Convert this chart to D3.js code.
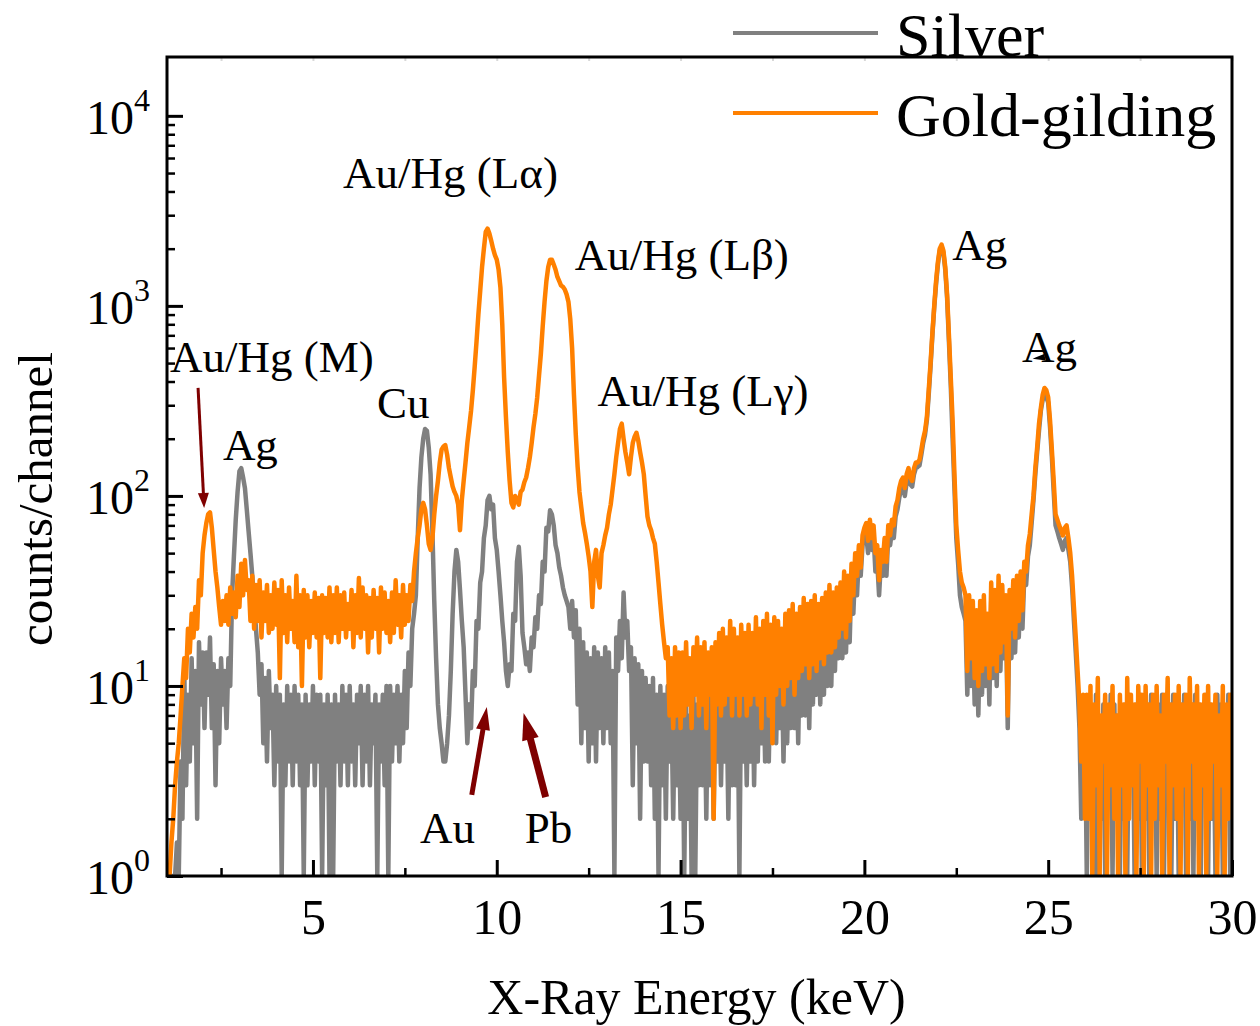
<!DOCTYPE html>
<html>
<head>
<meta charset="utf-8">
<script src="https://cdn.jsdelivr.net/npm/d3@7"></script>
<style>
  body { margin: 0; background: #fff; }
  svg text { font-family: "Liberation Serif", "Times New Roman", serif; fill: #000; }
</style>
</head>
<body>
<svg id="chart" width="1260" height="1026"></svg>
<script>
// spectrum channels: 0.05 keV wide, the first one at 1.05 keV (one row = 1 keV)
const firstChannel = 1.05;
const channelWidth = 0.05;

// counts per channel
const silverCounts = [
  1, 1, 1, 1, 1, 1.5, 1, 4, 2, 12, 3, 9, 4, 14, 5, 12, 2, 17, 8, 15,
  6, 15, 9, 18, 6, 13, 3, 12, 5, 14, 8, 12, 6, 14, 10, 30, 48, 75, 105, 135,
  140, 125, 110, 85, 65, 50, 38, 28, 20, 15, 9, 13, 5, 11, 4, 12, 6, 9, 3, 10,
  4, 9, 1, 8, 3, 10, 4, 9, 3, 10, 4, 9, 3, 8, 1, 9, 3, 8, 4, 10,
  3, 9, 4, 9, 1, 8, 3, 9, 1, 8, 1, 9, 4, 8, 3, 10, 4, 9, 3, 10,
  4, 8, 3, 9, 5, 10, 3, 9, 4, 10, 3, 8, 5, 9, 1, 8, 4, 9, 3, 10,
  1, 10, 4, 9, 5, 10, 4, 9, 5, 12, 6, 15, 10, 20, 24, 30, 60, 110, 160, 200,
  225, 220, 180, 130, 65, 28, 14, 8, 6, 5, 4, 4, 5, 7, 12, 24, 40, 52, 45, 32,
  22, 16, 9, 5, 8, 6, 12, 10, 22, 20, 35, 40, 60, 70, 95, 100, 85, 90, 60, 52,
  40, 30, 22, 17, 12, 10, 13, 12, 24, 22, 45, 54, 38, 19, 16, 13, 15, 12, 18, 16,
  23, 20, 30, 27, 45, 40, 68, 65, 84, 80, 70, 55, 50, 42, 38, 33, 30, 28, 26, 20,
  28, 18, 25, 8, 20, 5, 17, 6, 15, 4, 14, 5, 16, 4, 15, 6, 14, 5, 16, 6,
  15, 5, 12, 1, 18, 12, 22, 14, 31, 18, 22, 12, 16, 3, 14, 5, 13, 2, 12, 4,
  11, 4, 10, 3, 11, 2, 9, 1, 10, 3, 9, 2, 10, 4, 8, 2, 9, 3, 8, 2,
  9, 1, 8, 2, 7, 1, 9, 1, 8, 3, 10, 3, 9, 2, 10, 3, 9, 2, 9, 4,
  11, 3, 10, 4, 9, 2, 12, 3, 10, 3, 11, 1, 12, 4, 10, 3, 11, 4, 12, 3,
  11, 4, 12, 5, 13, 4, 12, 4, 13, 6, 12, 5, 14, 6, 13, 4, 14, 5, 15, 6,
  16, 6, 17, 5, 18, 7, 17, 7, 20, 6, 19, 8, 22, 9, 20, 8, 22, 9, 24, 10,
  25, 10, 27, 12, 29, 14, 28, 14, 33, 15, 32, 17, 38, 24, 42, 30, 48, 38, 55, 60,
  62, 50, 68, 52, 62, 40, 45, 30, 45, 38, 52, 38, 62, 55, 66, 60, 78, 85, 98, 110,
  112, 100, 118, 125, 115, 112, 130, 140, 142, 145, 165, 190, 210, 250, 340, 480, 700, 980, 1300, 1650,
  1950, 2050, 1900, 1550, 1100, 650, 380, 200, 110, 60, 44, 30, 26, 24, 22, 9, 22, 10, 20, 8,
  18, 7, 20, 9, 24, 10, 20, 8, 28, 11, 26, 10, 30, 12, 27, 14, 24, 6, 26, 14,
  28, 15, 30, 18, 34, 20, 38, 34, 48, 55, 72, 95, 130, 170, 220, 280, 320, 340, 330, 310,
  230, 160, 105, 70, 65, 60, 56, 52, 58, 60, 52, 45, 33, 22, 15, 10, 6, 2, 3, 7,
  1, 8, 2, 7, 1, 9, 1, 6, 2, 8, 1, 7, 3, 9, 1, 8, 2, 7, 1, 6,
  2, 8, 1, 9, 3, 7, 1, 8, 2, 9, 1, 7, 2, 8, 1, 9, 3, 7, 1, 8,
  2, 9, 1, 7, 3, 8, 1, 9, 2, 7, 1, 8, 3, 9, 1, 7, 2, 8, 1, 9,
  2, 8, 1, 7, 3, 9, 1, 8, 2, 7, 1, 9, 3, 8, 1, 7, 2, 9, 1, 8
];

const goldCounts = [
  1, 1, 1.5, 2, 3, 4, 5, 7, 10, 14, 11, 20, 15, 24, 18, 26, 20, 36, 30, 50,
  62, 72, 80, 82, 68, 52, 40, 33, 26, 21, 28, 22, 30, 21, 33, 24, 31, 23, 38, 26,
  44, 30, 46, 32, 36, 22, 38, 20, 34, 22, 36, 18, 31, 22, 34, 19, 30, 20, 35, 21,
  32, 11, 36, 19, 30, 17, 33, 20, 28, 17, 38, 16, 30, 10, 32, 18, 30, 16, 28, 19,
  31, 18, 29, 11, 30, 19, 29, 18, 33, 17, 30, 19, 33, 17, 30, 20, 31, 18, 27, 20,
  32, 16, 30, 19, 37, 18, 33, 20, 30, 15, 29, 18, 32, 20, 29, 15, 33, 20, 31, 19,
  28, 17, 31, 19, 36, 21, 30, 18, 34, 21, 30, 22, 34, 28, 40, 50, 60, 70, 85, 92,
  85, 70, 56, 52, 60, 80, 100, 120, 150, 175, 182, 185, 165, 140, 125, 112, 105, 100, 90, 66,
  95, 120, 150, 190, 230, 280, 360, 480, 650, 900, 1200, 1600, 2000, 2450, 2550, 2400, 2200, 2000, 1850, 1750,
  1550, 1250, 800, 420, 260, 170, 120, 92, 87, 100, 95, 90, 105, 108, 118, 125, 140, 160, 190, 230,
  270, 330, 430, 560, 780, 1050, 1350, 1600, 1750, 1750, 1650, 1550, 1420, 1350, 1280, 1260, 1220, 1150, 1050, 850,
  600, 340, 210, 142, 105, 87, 72, 64, 56, 48, 40, 26, 45, 52, 38, 33, 50, 55, 62, 68,
  80, 90, 108, 130, 160, 190, 225, 240, 200, 170, 150, 130, 160, 190, 205, 215, 195, 170, 150, 130,
  100, 78, 70, 66, 60, 56, 45, 35, 27, 21, 17, 14, 16, 7, 14, 6, 16, 7, 15, 6,
  15, 7, 17, 8, 14, 6, 16, 9, 18, 7, 16, 8, 17, 6, 15, 9, 16, 2, 17, 8,
  19, 7, 20, 8, 18, 9, 22, 7, 20, 9, 18, 7, 21, 9, 19, 7, 21, 8, 19, 9,
  23, 8, 20, 6, 22, 9, 24, 7, 21, 5, 23, 9, 22, 10, 20, 8, 24, 10, 25, 11,
  27, 9, 24, 11, 26, 12, 29, 13, 27, 11, 28, 13, 30, 12, 27, 14, 29, 13, 31, 15,
  34, 15, 31, 16, 33, 18, 35, 20, 40, 18, 38, 22, 44, 30, 50, 38, 55, 42, 62, 68,
  72, 58, 75, 60, 70, 50, 55, 36, 52, 45, 60, 45, 70, 62, 75, 70, 88, 95, 110, 120,
  125, 110, 130, 140, 125, 120, 140, 150, 150, 155, 175, 200, 220, 260, 360, 500, 720, 1000, 1350, 1700,
  2000, 2100, 1950, 1600, 1150, 700, 420, 250, 130, 70, 52, 40, 35, 33, 30, 12, 30, 14, 28, 11,
  25, 10, 28, 12, 30, 13, 24, 11, 35, 13, 32, 12, 38, 15, 34, 17, 30, 7, 32, 20,
  36, 18, 38, 22, 40, 25, 45, 40, 55, 63, 80, 100, 140, 180, 240, 290, 340, 370, 360, 330,
  250, 175, 120, 80, 75, 70, 66, 62, 68, 70, 60, 50, 38, 26, 18, 12, 8, 4, 9, 2,
  9, 2, 10, 1, 8, 3, 11, 1, 7, 4, 9, 1, 8, 3, 10, 2, 7, 1, 9, 3,
  8, 1, 11, 2, 9, 3, 8, 1, 10, 4, 9, 1, 10, 3, 8, 1, 9, 2, 10, 3,
  7, 1, 9, 4, 11, 1, 8, 3, 9, 2, 10, 1, 8, 3, 9, 1, 11, 4, 8, 2,
  10, 1, 8, 3, 9, 1, 10, 2, 8, 4, 9, 1, 7, 3, 10, 1, 8, 2, 9, 3
];

const seriesNames = ["Silver", "Gold-gilding"];
const seriesColors = ["#808080", "#ff8000"];

const xMajorTicks = [5, 10, 15, 20, 25, 30];
const xMinorTicks = [2.5, 7.5, 12.5, 17.5, 22.5, 27.5];
const yMajorTicks = [1, 10, 100, 1000, 10000];
const yTickExponents = ["0", "1", "2", "3", "4"];

// peak labels, placed in data space (keV, counts) at their left baseline
const peakLabels = [
  { text: "Au/Hg (M)", e: 1.11, c: 450 },
  { text: "Ag", e: 2.55, c: 155 },
  { text: "Cu", e: 6.74, c: 257 },
  { text: "Au/Hg (L\u03b1)", e: 5.82, c: 4180 },
  { text: "Au/Hg (L\u03b2)", e: 12.12, c: 1546 },
  { text: "Au/Hg (L\u03b3)", e: 12.74, c: 298 },
  { text: "Ag", e: 22.39, c: 1746 },
  { text: "Ag", e: 24.29, c: 507 },
  { text: "Au", e: 7.91, c: 1.49 },
  { text: "Pb", e: 10.76, c: 1.49 }
];

// arrows: tail -> tip in data space, shaft width and head size in px
const arrows = [
  { from: [1.875, 370], to: [2.04, 86.5], w: 3, headLen: 15, headW: 11 },
  { from: [9.32, 2.67], to: [9.73, 7.75], w: 5, headLen: 23, headW: 14 },
  { from: [11.33, 2.6], to: [10.73, 7.2], w: 7, headLen: 27, headW: 17 }
];

const margin = { top: 57, right: 28, bottom: 150, left: 167 };
const width = 1260, height = 1026;
const plotW = width - margin.left - margin.right;
const plotH = height - margin.top - margin.bottom;

const svg = d3.select("#chart");

const x = d3.scaleLinear().domain([1.03, 30]).range([margin.left, margin.left + plotW]);
const y = d3.scaleLog().domain([1, 20400]).range([margin.top + plotH, margin.top]);

const channels = silverCounts.map((_, i) => +(firstChannel + i * channelWidth).toFixed(2));
const series = [silverCounts, goldCounts].map((vals, k) => ({
  name: seriesNames[k],
  color: seriesColors[k],
  points: vals.map((c, i) => ({ e: channels[i], c: c }))
}));

svg.append("clipPath").attr("id", "plotClip")
  .append("rect")
  .attr("x", margin.left).attr("y", margin.top)
  .attr("width", plotW).attr("height", plotH);

const line = d3.line().x(d => x(d.e)).y(d => y(d.c));

svg.append("g").attr("clip-path", "url(#plotClip)")
  .selectAll("path")
  .data(series)
  .join("path")
  .attr("d", d => line(d.points))
  .attr("fill", "none")
  .attr("stroke", d => d.color)
  .attr("stroke-width", 4.5)
  .attr("stroke-linejoin", "round");

// faint ticks along the top edge
svg.append("g")
  .attr("transform", `translate(0,${margin.top})`)
  .call(d3.axisTop(x).tickValues(xMajorTicks.concat(xMinorTicks)).tickSize(-4).tickFormat(""))
  .call(g => g.select(".domain").remove())
  .call(g => g.selectAll("line").attr("stroke", "#d8d8d8").attr("stroke-width", 2));

// frame
svg.append("rect")
  .attr("x", margin.left).attr("y", margin.top)
  .attr("width", plotW).attr("height", plotH)
  .attr("fill", "none").attr("stroke", "#000").attr("stroke-width", 3);

// x axis
const xAxisG = svg.append("g").attr("transform", `translate(0,${margin.top + plotH})`);
xAxisG.append("g")
  .call(d3.axisBottom(x).tickValues(xMinorTicks).tickSize(-8).tickSizeOuter(0).tickFormat(""))
  .call(g => g.select(".domain").remove())
  .call(g => g.selectAll("line").attr("stroke", "#000").attr("stroke-width", 2.5));
xAxisG.append("g")
  .call(d3.axisBottom(x).tickValues(xMajorTicks).tickSize(-16).tickSizeOuter(0).tickPadding(22).tickFormat(d3.format("d")))
  .call(g => g.select(".domain").remove())
  .call(g => g.selectAll("line").attr("stroke", "#000").attr("stroke-width", 3))
  .call(g => g.selectAll("text").attr("font-size", 50).attr("font-family", null));

// y axis
const yMinorTicks = [];
[1, 10, 100, 1000].forEach(dec => { for (let m = 2; m <= 9; m++) yMinorTicks.push(dec * m); });

const yAxisG = svg.append("g").attr("transform", `translate(${margin.left},0)`);
yAxisG.append("g")
  .call(d3.axisLeft(y).tickValues(yMinorTicks).tickSize(-8).tickSizeOuter(0).tickFormat(""))
  .call(g => g.select(".domain").remove())
  .call(g => g.selectAll("line").attr("stroke", "#000").attr("stroke-width", 2.5));
yAxisG.append("g")
  .call(d3.axisLeft(y).tickValues(yMajorTicks).tickSize(-16).tickSizeOuter(0).tickPadding(17))
  .call(g => g.select(".domain").remove())
  .call(g => g.selectAll("line").attr("stroke", "#000").attr("stroke-width", 3))
  .call(g => g.selectAll("text").each(function(d, i) {
    const t = d3.select(this).text(null)
      .attr("font-family", null).attr("font-size", 48).attr("dy", "0.36em");
    t.append("tspan").text("10");
    t.append("tspan").attr("font-size", 32).attr("dy", "-23px").text(yTickExponents[i]);
  }));

// axis titles
svg.append("text")
  .attr("x", margin.left + plotW / 2 - 3).attr("y", 1014)
  .attr("text-anchor", "middle").attr("font-size", 50)
  .text("X-Ray Energy (keV)");

svg.append("text")
  .attr("transform", "translate(52,499) rotate(-90)")
  .attr("text-anchor", "middle").attr("font-size", 49)
  .text("counts/channel");

// peak annotations
svg.append("g").selectAll("text")
  .data(peakLabels)
  .join("text")
  .attr("x", d => x(d.e)).attr("y", d => y(d.c))
  .attr("font-size", 45)
  .text(d => d.text);

// small mark on the last Ag label
svg.append("path")
  .attr("d", `M${x(24.68)},${y(530)} l7,-3 l1,4 z`)
  .attr("fill", "#000").attr("stroke", "#000").attr("stroke-width", 2);

// arrows
const arrowG = svg.append("g");
arrows.forEach(a => {
  const x0 = x(a.from[0]), y0 = y(a.from[1]);
  const x1 = x(a.to[0]), y1 = y(a.to[1]);
  const len = Math.hypot(x1 - x0, y1 - y0);
  const ux = (x1 - x0) / len, uy = (y1 - y0) / len;
  const bx = x1 - ux * a.headLen, by = y1 - uy * a.headLen;
  arrowG.append("line")
    .attr("x1", x0).attr("y1", y0).attr("x2", bx + ux * 2).attr("y2", by + uy * 2)
    .attr("stroke", "#7f0000").attr("stroke-width", a.w);
  arrowG.append("path")
    .attr("d", `M${x1},${y1} L${bx - uy * a.headW / 2},${by + ux * a.headW / 2} L${bx + uy * a.headW / 2},${by - ux * a.headW / 2} Z`)
    .attr("fill", "#7f0000");
});

// legend
const legend = svg.append("g").selectAll("g")
  .data(series)
  .join("g")
  .attr("transform", (d, i) => `translate(733,${33 + i * 80})`);
legend.append("line")
  .attr("x1", 0).attr("x2", 145)
  .attr("stroke", d => d.color).attr("stroke-width", 4);
legend.append("text")
  .attr("x", 163).attr("y", 23)
  .attr("font-size", 62)
  .text(d => d.name);
</script>
</body>
</html>
